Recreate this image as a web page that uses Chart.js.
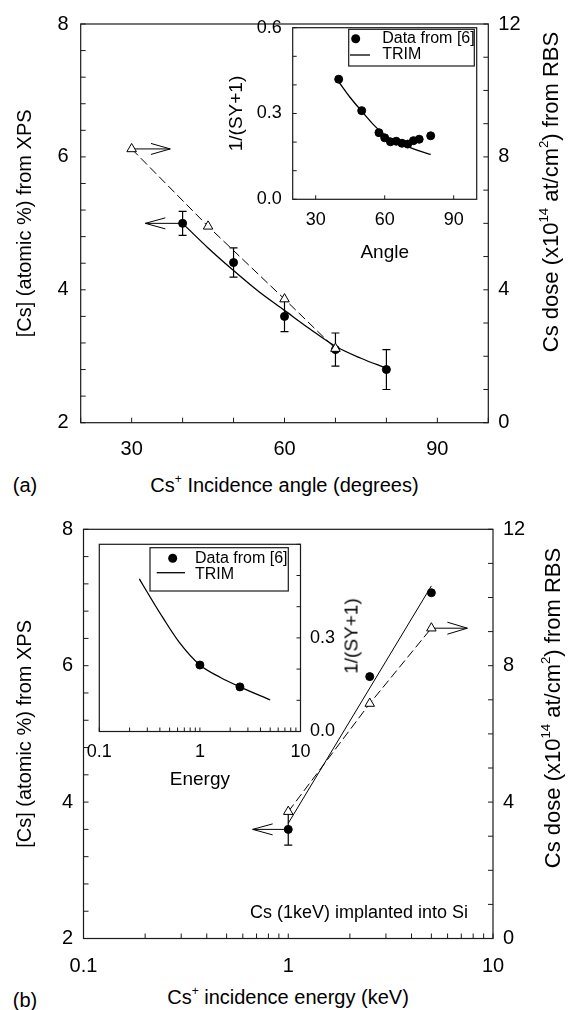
<!DOCTYPE html>
<html><head><meta charset="utf-8">
<script src="https://cdn.jsdelivr.net/npm/chart.js@4.4.1/dist/chart.umd.min.js"></script>
<style>
html,body{margin:0;padding:0;background:#fff;}
#wrap{position:relative;width:568px;height:1010px;overflow:hidden;background:#fff;font-family:"Liberation Sans",Arial,sans-serif;color:#000;}
canvas{position:absolute;}
.t{position:absolute;white-space:nowrap;line-height:1;font-size:20px;}
.rot{transform:translate(-50%,-50%) rotate(-90deg);}
.ctr{transform:translate(-50%,-50%);}
sup{font-size:0.6em;vertical-align:baseline;position:relative;top:-0.75em;}
</style></head>
<body>
<div id="wrap">
  <canvas id="cA" width="568" height="470" style="left:0;top:0;"></canvas>
  <canvas id="cAi" width="290" height="270" style="left:200px;top:0;"></canvas>
  <canvas id="cB" width="568" height="480" style="left:0;top:500px;"></canvas>
  <canvas id="cBi" width="320" height="280" style="left:60px;top:520px;"></canvas>

  <div class="t ctr" style="left:25px;top:485px;">(a)</div>
  <div class="t ctr" style="left:284.5px;top:485px;">Cs<sup>+</sup> Incidence angle (degrees)</div>
  <div class="t rot" style="left:551px;top:192px;font-size:22px;">Cs dose (x10<sup>14</sup> at/cm<sup>2</sup>) from RBS</div>

  <div class="t ctr" style="left:25px;top:1000px;">(b)</div>
  <div class="t ctr" style="left:288px;top:997px;">Cs<sup>+</sup> incidence energy (keV)</div>
  <div class="t rot" style="left:553px;top:708px;font-size:22px;">Cs dose (x10<sup>14</sup> at/cm<sup>2</sup>) from RBS</div>
  <div class="t rot" style="left:350.5px;top:636px;font-size:19px;">1/(SY+1)</div>
  <div class="t" style="left:250px;top:902.7px;font-size:18px;">Cs (1keV) implanted into Si</div>
</div>
<script>
// ---------------- DATA ----------------
// Panel (a): vs incidence angle
const angleXps = [40, 50, 60, 70, 80];
const csXps = [5.0, 4.41, 3.60, 3.10, 2.80];
const csXpsErr = [0.18, 0.22, 0.23, 0.25, 0.30];
const angleFit = [40, 45, 50, 55, 60, 65, 70, 75, 80];
const csFit = [5.0, 4.63, 4.29, 3.97, 3.69, 3.41, 3.15, 2.97, 2.82];
const angleRbs = [30, 45, 60, 70];
const doseRbs = [8.24, 5.91, 3.72, 2.23];
const angleTicks = [20, 30, 40, 50, 60, 70, 80, 90, 100];
const angleLabels = [30, 60, 90];
const csTicks = [2, 2.4, 2.8, 3.2, 3.6, 4, 4.4, 4.8, 5.2, 5.6, 6, 6.4, 6.8, 7.2, 7.6, 8];
const csLabels = [2, 4, 6, 8];
const doseTicks = [0, 1, 2, 3, 4, 5, 6, 7, 8, 9, 10, 11, 12];
const doseLabels = [0, 4, 8, 12];

// Inset (a)
const insetAngle = [40, 50, 57.5, 60, 62.5, 65, 67.5, 70, 72.5, 75, 80];
const insetSY = [0.42, 0.31, 0.233, 0.215, 0.201, 0.203, 0.196, 0.193, 0.205, 0.21, 0.222];
const trimAngle = [40, 45, 50, 55, 60, 65, 70, 75, 80];
const trimSY = [0.411, 0.356, 0.308, 0.262, 0.225, 0.201, 0.184, 0.169, 0.157];
const insetAngleTicks = [30, 60, 90];
const syTicks = [0, 0.1, 0.2, 0.3, 0.4, 0.5, 0.6];
const syLabelsA = [0, 0.3, 0.6];
const syLabelsB = [0, 0.3];

// Panel (b): vs incidence energy
const energyXps = [1, 2.5, 5];
const csXpsE = [3.6, 5.84, 7.07];
const csXpsEErr = [0.23, 0, 0];
const energyFit = [1, 5];
const csFitE = [3.69, 7.17];
const energyRbs = [1, 2.5, 5];
const doseRbsE = [3.72, 6.89, 9.10];
const energyTicks = [0.1, 0.2, 0.3, 0.4, 0.5, 0.6, 0.7, 0.8, 0.9, 1, 2, 3, 4, 5, 6, 7, 8, 9, 10];
const energyLabels = [0.1, 1, 10];

// Inset (b)
const insetEnergy = [1, 2.5];
const insetSYE = [0.213, 0.143];
const trimEnergy = [0.25, 0.32, 0.43, 0.63, 1, 1.6, 2.5, 5];
const trimSYE = [0.489, 0.431, 0.364, 0.284, 0.213, 0.173, 0.143, 0.101];

// ---------------- STYLE / PLUGINS ----------------
const FONT = '"Liberation Sans", Arial, sans-serif';
Chart.defaults.font.family = FONT;
Chart.defaults.color = '#000';
Chart.defaults.animation = false;
const FRAME = '#1a1a1a';

const pts = (xs, ys) => xs.map((x, i) => ({ x: x, y: ys[i] }));
const setTicks = arr => (s => { s.ticks = arr.map(v => ({ value: v })); });
const labelIf = (arr, fmt) => (v => arr.some(a => Math.abs(a - v) < 1e-9) ? (fmt ? fmt(v) : String(v)) : '');

const framePlugin = {
  id: 'frame',
  beforeDraw(chart, args, o) {
    const a = chart.chartArea, ctx = chart.ctx;
    if (o.fill) { ctx.save(); ctx.fillStyle = o.fill; ctx.fillRect(a.left, a.top, a.right - a.left, a.bottom - a.top); ctx.restore(); }
  },
  afterDraw(chart, args, o) {
    const a = chart.chartArea, ctx = chart.ctx;
    ctx.save();
    ctx.strokeStyle = FRAME; ctx.lineWidth = 1.2;
    ctx.strokeRect(a.left, a.top, a.right - a.left, a.bottom - a.top);
    const L = o.tickLen || 5;
    ctx.lineWidth = 1;
    Object.values(chart.scales).forEach(sc => {
      sc.ticks.forEach(t => {
        const p = sc.getPixelForValue(t.value);
        ctx.beginPath();
        if (sc.position === 'bottom') { ctx.moveTo(p, a.bottom); ctx.lineTo(p, a.bottom - L); }
        else if (sc.position === 'left') { ctx.moveTo(a.left, p); ctx.lineTo(a.left + L, p); }
        else if (sc.position === 'right') { ctx.moveTo(a.right, p); ctx.lineTo(a.right - L, p); }
        ctx.stroke();
      });
    });
    ctx.restore();
  }
};

const errPlugin = {
  id: 'errbars',
  beforeDatasetsDraw(chart) {
    const ctx = chart.ctx;
    chart.data.datasets.forEach((ds, i) => {
      if (!ds.yErr) return;
      const meta = chart.getDatasetMeta(i);
      const ys = chart.scales[meta.yAxisID];
      ctx.save(); ctx.strokeStyle = '#000'; ctx.lineWidth = 1.2;
      ds.data.forEach((d, j) => {
        const e = ds.yErr[j]; if (!e) return;
        const x = meta.data[j].x;
        const y1 = ys.getPixelForValue(d.y + e), y2 = ys.getPixelForValue(d.y - e);
        ctx.beginPath();
        ctx.moveTo(x, y1); ctx.lineTo(x, y2);
        ctx.moveTo(x - 4, y1); ctx.lineTo(x + 4, y1);
        ctx.moveTo(x - 4, y2); ctx.lineTo(x + 4, y2);
        ctx.stroke();
      });
      ctx.restore();
    });
  }
};

const arrowPlugin = {
  id: 'arrows',
  beforeDatasetsDraw(chart, args, o) {
    const ctx = chart.ctx;
    (o.items || []).forEach(it => {
      const p = chart.getDatasetMeta(it.dataset).data[it.index];
      const x0 = p.x, y0 = p.y, x1 = x0 + it.dir * it.len;
      ctx.save(); ctx.strokeStyle = '#000'; ctx.lineWidth = 1;
      ctx.beginPath();
      ctx.moveTo(x0, y0); ctx.lineTo(x1, y0);
      ctx.moveTo(x1 - it.dir * it.head, y0 - it.half); ctx.lineTo(x1, y0); ctx.lineTo(x1 - it.dir * it.head, y0 + it.half);
      ctx.stroke(); ctx.restore();
    });
  }
};

const legendPlugin = {
  id: 'boxLegend',
  afterDraw(chart, args, o) {
    if (!o.w) return;
    const a = chart.chartArea, ctx = chart.ctx;
    const left = a.right - o.right - o.w, top = a.top + o.top;
    ctx.save();
    ctx.fillStyle = '#fff'; ctx.fillRect(left, top, o.w, o.h);
    ctx.strokeStyle = FRAME; ctx.lineWidth = 1.2; ctx.strokeRect(left, top, o.w, o.h);
    ctx.font = o.fontSize + 'px ' + FONT;
    ctx.textBaseline = 'middle'; ctx.textAlign = 'left'; ctx.fillStyle = '#000';
    chart.data.datasets.filter(d => d.inLegend).forEach((d, k) => {
      if (d.showLine) {
        ctx.strokeStyle = '#000'; ctx.lineWidth = d.borderWidth;
        ctx.beginPath(); ctx.moveTo(left + o.lineX0, top + o.lineY); ctx.lineTo(left + o.lineX1, top + o.lineY); ctx.stroke();
      } else {
        ctx.beginPath(); ctx.arc(left + o.symX, top + o.symY, d.pointRadius + 0.5, 0, Math.PI * 2); ctx.fill();
      }
      ctx.fillText(d.label, left + o.textX, top + o.textY[k]);
    });
    ctx.restore();
  }
};

const PLUGINS = [framePlugin, errPlugin, arrowPlugin, legendPlugin];
const noGrid = { display: false, drawTicks: false };
const noBorder = { display: false };

// ---------------- PANEL (a) ----------------
new Chart(document.getElementById('cA'), {
  type: 'scatter',
  data: { datasets: [
    { label: 'RBS', data: pts(angleRbs, doseRbs), yAxisID: 'y2', showLine: true, borderColor: '#000', borderWidth: 1, borderDash: [9, 4],
      pointStyle: 'triangle', pointRadius: 5.5, pointBackgroundColor: '#fff', pointBorderColor: '#000', pointBorderWidth: 1, order: 0 },
    { label: 'XPS', data: pts(angleXps, csXps), yAxisID: 'y', showLine: false, pointRadius: 4, pointBackgroundColor: '#000',
      pointBorderColor: '#000', pointBorderWidth: 1, yErr: csXpsErr, order: 1 },
    { label: 'XPS fit', data: pts(angleFit, csFit), yAxisID: 'y', showLine: true, pointRadius: 0, borderColor: '#000', borderWidth: 1.3,
      cubicInterpolationMode: 'monotone', order: 2 }
  ]},
  options: {
    responsive: false, events: [],
    layout: { padding: { top: 13.3, left: 0, right: 0, bottom: 0 } },
    plugins: { legend: { display: false }, tooltip: { enabled: false },
      frame: { tickLen: 5 },
      arrows: { items: [
        { dataset: 1, index: 0, dir: -1, len: 37.3, head: 20, half: 5.5 },
        { dataset: 0, index: 0, dir: 1, len: 38.6, head: 19.3, half: 5.5 } ] } },
    scales: {
      x: { type: 'linear', position: 'bottom', min: 20, max: 100, grid: noGrid, border: noBorder,
        afterBuildTicks: setTicks(angleTicks), afterFit: s => { s.height = 47.3; },
        ticks: { autoSkip: false, maxRotation: 0, padding: 15, font: { size: 20 }, callback: labelIf(angleLabels) } },
      y: { type: 'linear', position: 'left', min: 2, max: 8, grid: noGrid, border: noBorder,
        afterBuildTicks: setTicks(csTicks), afterFit: s => { s.width = 80.7; },
        ticks: { autoSkip: false, padding: 12, font: { size: 20 }, callback: labelIf(csLabels) },
        title: { display: true, text: '[Cs] (atomic %) from XPS', font: { size: 20 }, padding: { top: 13, bottom: 0 } } },
      y2: { type: 'linear', position: 'right', min: 0, max: 12, grid: noGrid, border: noBorder,
        afterBuildTicks: setTicks(doseTicks), afterFit: s => { s.width = 79.7; },
        ticks: { autoSkip: false, padding: 10, font: { size: 20 }, callback: labelIf(doseLabels) } }
    }
  },
  plugins: PLUGINS
});

// Inset (a)
new Chart(document.getElementById('cAi'), {
  type: 'scatter',
  data: { datasets: [
    { label: 'Data from [6]', inLegend: true, data: pts(insetAngle, insetSY), showLine: false, pointRadius: 4,
      pointBackgroundColor: '#000', pointBorderColor: '#000', pointBorderWidth: 1, order: 0 },
    { label: 'TRIM', inLegend: true, data: pts(trimAngle, trimSY), showLine: true, pointRadius: 0, borderColor: '#000',
      borderWidth: 1.3, cubicInterpolationMode: 'monotone', order: 1 }
  ]},
  options: {
    responsive: false, events: [],
    layout: { padding: { top: 27.7, left: 0, right: 13.3, bottom: 0 } },
    plugins: { legend: { display: false }, tooltip: { enabled: false },
      frame: { fill: '#fff', tickLen: 4 },
      boxLegend: { right: 2.4, top: 1.6, w: 125.6, h: 36.7, fontSize: 16, symX: 7, symY: 9.4,
        lineX0: 1.3, lineX1: 21.3, lineY: 25.7, textX: 33.5, textY: [9.4, 25.7] } },
    scales: {
      x: { type: 'linear', position: 'bottom', min: 20, max: 100, grid: noGrid, border: noBorder,
        afterBuildTicks: setTicks(insetAngleTicks), afterFit: s => { s.height = 70.7; },
        ticks: { autoSkip: false, maxRotation: 0, padding: 10, font: { size: 18 }, callback: labelIf(insetAngleTicks) },
        title: { display: true, text: 'Angle', font: { size: 19 }, padding: { top: 0, bottom: 5.6 } } },
      y: { type: 'linear', position: 'left', min: 0, max: 0.6, grid: noGrid, border: noBorder,
        afterBuildTicks: setTicks(syTicks), afterFit: s => { s.width = 92.7; },
        ticks: { autoSkip: false, padding: 11, font: { size: 18 }, callback: labelIf(syLabelsA, v => v.toFixed(1)) },
        title: { display: true, text: '1/(SY+1)', font: { size: 19 }, padding: { top: 25.3, bottom: 0 } } }
    }
  },
  plugins: PLUGINS
});

// ---------------- PANEL (b) ----------------
new Chart(document.getElementById('cB'), {
  type: 'scatter',
  data: { datasets: [
    { label: 'RBS', data: pts(energyRbs, doseRbsE), yAxisID: 'y2', showLine: true, borderColor: '#000', borderWidth: 1, borderDash: [9, 4],
      pointStyle: 'triangle', pointRadius: 5.5, pointBackgroundColor: '#fff', pointBorderColor: '#000', pointBorderWidth: 1, order: 0 },
    { label: 'XPS', data: pts(energyXps, csXpsE), yAxisID: 'y', showLine: false, pointRadius: 4, pointBackgroundColor: '#000',
      pointBorderColor: '#000', pointBorderWidth: 1, yErr: csXpsEErr, order: 1 },
    { label: 'XPS fit', data: pts(energyFit, csFitE), yAxisID: 'y', showLine: true, pointRadius: 0, borderColor: '#000', borderWidth: 1, order: 2 }
  ]},
  options: {
    responsive: false, events: [],
    layout: { padding: { top: 29.3, left: 0, right: 0, bottom: 0 } },
    plugins: { legend: { display: false }, tooltip: { enabled: false },
      frame: { tickLen: 5 },
      arrows: { items: [
        { dataset: 1, index: 0, dir: -1, len: 35.6, head: 20, half: 5.5 },
        { dataset: 0, index: 2, dir: 1, len: 36, head: 20, half: 6 } ] } },
    scales: {
      x: { type: 'logarithmic', position: 'bottom', min: 0.1, max: 10, grid: noGrid, border: noBorder,
        afterBuildTicks: setTicks(energyTicks), afterFit: s => { s.height = 41.5; },
        ticks: { autoSkip: false, maxRotation: 0, padding: 16, font: { size: 20 }, callback: labelIf(energyLabels) } },
      y: { type: 'linear', position: 'left', min: 2, max: 8, grid: noGrid, border: noBorder,
        afterBuildTicks: setTicks(csTicks), afterFit: s => { s.width = 83.5; },
        ticks: { autoSkip: false, padding: 10.5, font: { size: 20 }, callback: labelIf(csLabels) },
        title: { display: true, text: '[Cs] (atomic %) from XPS', font: { size: 20 }, padding: { top: 13, bottom: 0 } } },
      y2: { type: 'linear', position: 'right', min: 0, max: 12, grid: noGrid, border: noBorder,
        afterBuildTicks: setTicks(doseTicks), afterFit: s => { s.width = 75; },
        ticks: { autoSkip: false, padding: 10, font: { size: 20 }, callback: labelIf(doseLabels) } }
    }
  },
  plugins: PLUGINS
});

// Inset (b)
new Chart(document.getElementById('cBi'), {
  type: 'scatter',
  data: { datasets: [
    { label: 'Data from [6]', inLegend: true, data: pts(insetEnergy, insetSYE), showLine: false, pointRadius: 4,
      pointBackgroundColor: '#000', pointBorderColor: '#000', pointBorderWidth: 1, order: 0 },
    { label: 'TRIM', inLegend: true, data: pts(trimEnergy, trimSYE), showLine: true, pointRadius: 0, borderColor: '#000',
      borderWidth: 1.3, cubicInterpolationMode: 'monotone', order: 1 }
  ]},
  options: {
    responsive: false, events: [],
    layout: { padding: { top: 24.3, left: 39.3, right: 0, bottom: 0 } },
    plugins: { legend: { display: false }, tooltip: { enabled: false },
      frame: { fill: '#fff', tickLen: 4 },
      boxLegend: { right: 12.2, top: 3.4, w: 138.3, h: 43.3, fontSize: 16, symX: 22.7, symY: 10.6,
        lineX0: 6.7, lineX1: 35, lineY: 25, textX: 45, textY: [10.6, 27] } },
    scales: {
      x: { type: 'logarithmic', position: 'bottom', min: 0.1, max: 10, grid: noGrid, border: noBorder,
        afterBuildTicks: setTicks(energyTicks), afterFit: s => { s.height = 68.5; },
        ticks: { autoSkip: false, maxRotation: 0, padding: 9.5, font: { size: 18 }, callback: labelIf(energyLabels) },
        title: { display: true, text: 'Energy', font: { size: 19 }, padding: { top: 0, bottom: 8.6 } } },
      y: { type: 'linear', position: 'right', min: 0, max: 0.6, grid: noGrid, border: noBorder,
        afterBuildTicks: setTicks(syTicks), afterFit: s => { s.width = 79.5; },
        ticks: { autoSkip: false, padding: 9.5, font: { size: 18 }, callback: labelIf(syLabelsB, v => v.toFixed(1)) } }
    }
  },
  plugins: PLUGINS
});
</script>
</body></html>
